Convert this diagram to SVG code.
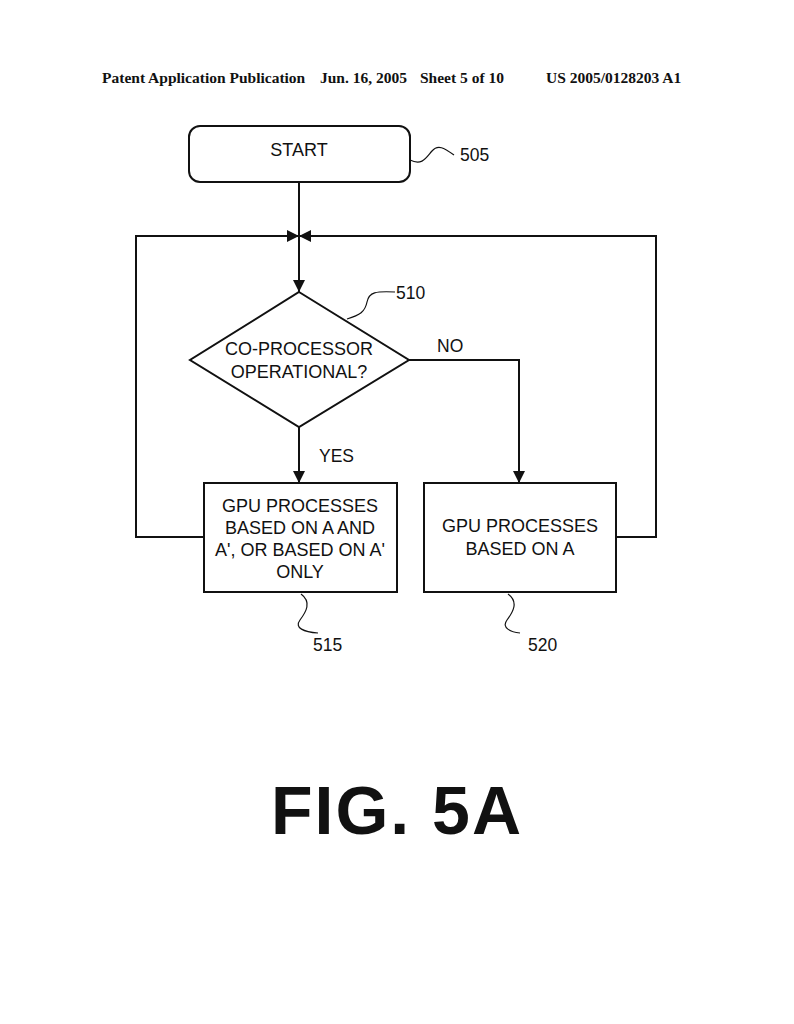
<svg xmlns="http://www.w3.org/2000/svg" width="794" height="1024" viewBox="0 0 794 1024">
<style>
.hdr{font-family:"Liberation Serif",serif;font-weight:bold;font-size:15.5px;fill:#111}
.t{font-family:"Liberation Sans",Arial,sans-serif;font-size:18px;fill:#111;text-anchor:middle}
.lbl{font-family:"Liberation Sans",Arial,sans-serif;font-size:17.5px;fill:#111}
.shape{fill:#fff;stroke:#111;stroke-width:2}
.ln{fill:none;stroke:#111;stroke-width:2}
.sq{fill:none;stroke:#111;stroke-width:1.2}
</style>
<defs>
<marker id="ah2" viewBox="0 0 10 10" refX="10" refY="5" markerWidth="12" markerHeight="12" orient="auto" markerUnits="userSpaceOnUse">
<path d="M0,0 L10,5 L0,10 z" fill="#111"/>
</marker>
</defs>
<rect width="794" height="1024" fill="#fff"/>
<text class="hdr" x="102" y="83">Patent Application Publication</text>
<text class="hdr" x="320" y="83">Jun. 16, 2005</text>
<text class="hdr" x="420" y="83">Sheet 5 of 10</text>
<text class="hdr" x="546" y="83">US 2005/0128203 A1</text>

<g id="connectors">
<path class="ln" d="M299,182 V292" marker-end="url(#ah2)"/>
<path class="ln" d="M204,537 H136 V236 H299" marker-end="url(#ah2)"/>
<path class="ln" d="M616,537 H656 V236 H299" marker-end="url(#ah2)"/>
<path class="ln" d="M299,427 V483" marker-end="url(#ah2)"/>
<path class="ln" d="M409,360 H519 V483" marker-end="url(#ah2)"/>
<text class="lbl" x="437" y="352">NO</text>
<text class="lbl" x="319" y="462">YES</text>
</g>

<g id="n505">
<rect class="shape" x="189" y="126" width="221" height="56" rx="11"/>
<text class="t" x="299" y="156">START</text>
<path class="sq" d="M410,160 C422,166 426,158 432,151 C438,144 444,148 454,155"/>
<text class="lbl" x="460" y="161">505</text>
</g>

<g id="n510">
<polygon class="shape" points="299,292 409,360 299,427 190,360"/>
<text class="t" x="299" y="355">CO-PROCESSOR</text>
<text class="t" x="299" y="378">OPERATIONAL?</text>
<path class="sq" d="M347,319 C360,315 365,312 367,302 C369,292 376,291 395,292"/>
<text class="lbl" x="396" y="299">510</text>
</g>

<g id="n515">
<rect class="shape" x="204" y="483" width="193" height="109"/>
<text class="t" x="300" y="512">GPU PROCESSES</text>
<text class="t" x="300" y="534">BASED ON A AND</text>
<text class="t" x="300" y="556">A', OR BASED ON A'</text>
<text class="t" x="300" y="578">ONLY</text>
<path class="sq" d="M301,594 C312,602 306,612 300,620 C294,628 304,632 318,633"/>
<text class="lbl" x="313" y="651">515</text>
</g>

<g id="n520">
<rect class="shape" x="424" y="483" width="192" height="109"/>
<text class="t" x="520" y="532">GPU PROCESSES</text>
<text class="t" x="520" y="555">BASED ON A</text>
<path class="sq" d="M508,594 C519,602 513,612 507,620 C501,628 511,632 520,633"/>
<text class="lbl" x="528" y="651">520</text>
</g>

<text x="397" y="834" style="font-family:'Liberation Sans',Arial,sans-serif;font-weight:bold;font-size:68px;letter-spacing:2px;fill:#111;text-anchor:middle">FIG. 5A</text>
</svg>
